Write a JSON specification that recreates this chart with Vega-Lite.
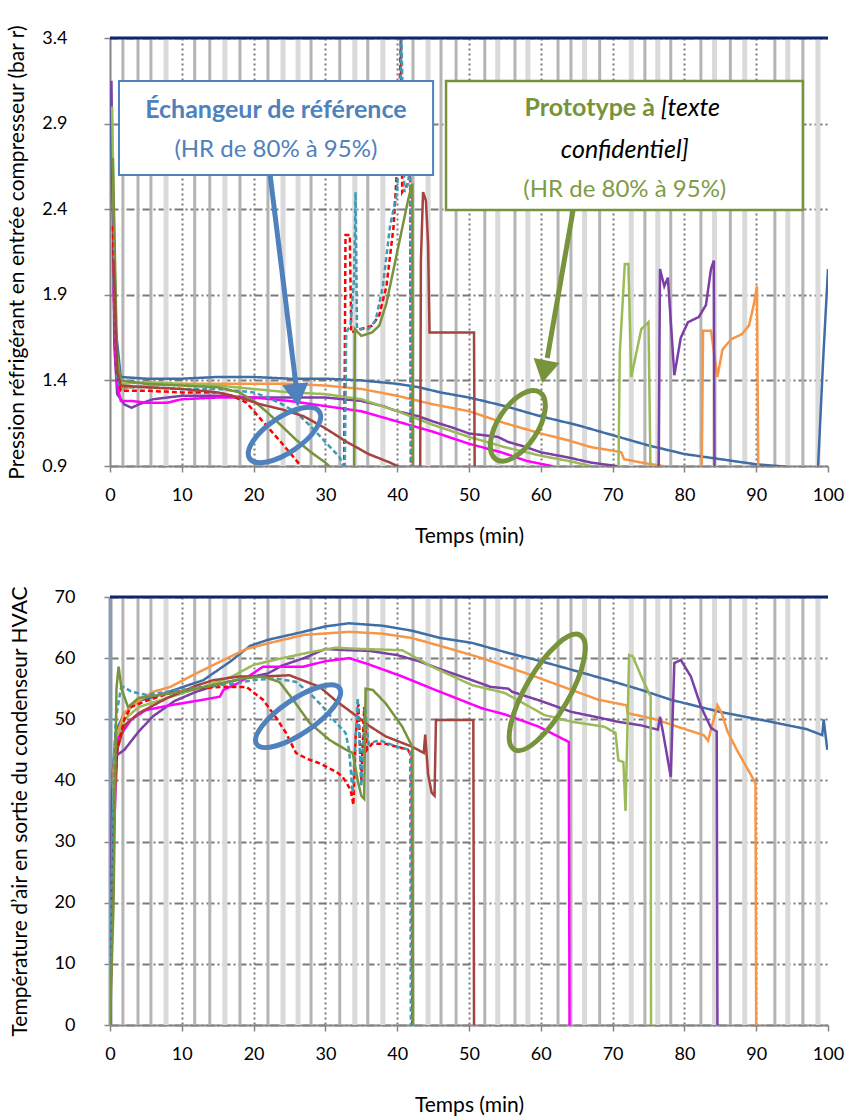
{
"$schema": "https://vega.github.io/schema/vega-lite/v6.json",
"padding": {"left": 6, "top": 24, "right": 12, "bottom": 5},
"background": "white",
"spacing": 131,
"bounds": "flush",
"config": {
  "view": {"stroke": null},
  "font": "Lato",
  "axis": {"labelFont": "Lato", "titleFont": "Lato", "labelFontSize": 18, "titleFontSize": 21, "titleFontWeight": "normal", "labelColor": "#000000", "titleColor": "#000000", "domainColor": "#868686", "domainWidth": 2, "tickColor": "#868686", "tickWidth": 1.5, "tickSize": 6, "gridColor": "#7a7a7a", "gridWidth": 2},
  "axisX": {"grid": true, "gridDash": [2, 3], "labelPadding": 14, "titlePadding": 21, "labelFlush": false, "gridOpacity": {"condition": {"test": "datum.value <= 0 || datum.value >= 100", "value": 0}, "value": 1}},
  "axisY": {"grid": true, "gridDash": [8, 3, 2, 3]},
  "axisQuantitative": {"grid": true}
},
"datasets": {
"bands": [
{"t":1.8,"tone":"d"},{"t":3.9,"tone":"d"},{"t":5.7,"tone":"d"},{"t":7.8,"tone":"l"},
{"t":11.8,"tone":"d"},{"t":13.9,"tone":"d"},{"t":16.0,"tone":"l"},{"t":18.1,"tone":"d"},
{"t":22.0,"tone":"d"},{"t":24.1,"tone":"l"},{"t":26.2,"tone":"l"},{"t":28.0,"tone":"d"},
{"t":32.0,"tone":"d"},{"t":34.1,"tone":"l"},{"t":35.9,"tone":"d"},{"t":38.0,"tone":"l"},
{"t":42.2,"tone":"d"},{"t":44.3,"tone":"l"},{"t":46.1,"tone":"d"},{"t":48.2,"tone":"d"},
{"t":52.2,"tone":"d"},{"t":54.0,"tone":"l"},{"t":56.4,"tone":"d"},{"t":58.2,"tone":"l"},
{"t":62.4,"tone":"d"},{"t":64.2,"tone":"d"},{"t":66.1,"tone":"l"},{"t":68.2,"tone":"d"},
{"t":72.6,"tone":"l"},{"t":74.5,"tone":"d"},{"t":76.3,"tone":"l"},{"t":78.1,"tone":"d"},
{"t":82.3,"tone":"d"},{"t":84.2,"tone":"l"},{"t":86.4,"tone":"d"},{"t":88.4,"tone":"l"},
{"t":92.6,"tone":"d"},{"t":94.4,"tone":"l"},{"t":96.5,"tone":"d"},{"t":98.6,"tone":"l"}
],
"press": [
{"s":"bleu","t":0,"v":3.1},{"s":"bleu","t":0.8,"v":1.7},{"s":"bleu","t":1.5,"v":1.42},{"s":"bleu","t":5,"v":1.41},{"s":"bleu","t":10,"v":1.41},{"s":"bleu","t":15,"v":1.42},{"s":"bleu","t":20,"v":1.42},{"s":"bleu","t":25,"v":1.41},{"s":"bleu","t":30,"v":1.41},{"s":"bleu","t":35,"v":1.4},{"s":"bleu","t":40,"v":1.38},{"s":"bleu","t":43,"v":1.36},{"s":"bleu","t":46,"v":1.33},{"s":"bleu","t":50,"v":1.3},{"s":"bleu","t":55,"v":1.25},{"s":"bleu","t":60,"v":1.19},{"s":"bleu","t":65,"v":1.14},{"s":"bleu","t":70,"v":1.08},{"s":"bleu","t":75,"v":1.02},{"s":"bleu","t":80,"v":0.97},{"s":"bleu","t":85,"v":0.94},{"s":"bleu","t":90,"v":0.91},{"s":"bleu","t":93,"v":0.9},{"s":"bleu","t":96,"v":0.89},{"s":"bleu","t":98.6,"v":0.88},{"s":"bleu","t":99.3,"v":1.5},{"s":"bleu","t":100,"v":2.05},
{"s":"orange","t":0.3,"v":2.2},{"s":"orange","t":0.8,"v":1.5},{"s":"orange","t":1.5,"v":1.35},{"s":"orange","t":3,"v":1.36},{"s":"orange","t":5,"v":1.37},{"s":"orange","t":10,"v":1.38},{"s":"orange","t":15,"v":1.38},{"s":"orange","t":20,"v":1.38},{"s":"orange","t":25,"v":1.38},{"s":"orange","t":30,"v":1.37},{"s":"orange","t":35,"v":1.35},{"s":"orange","t":40,"v":1.31},{"s":"orange","t":45,"v":1.26},{"s":"orange","t":50,"v":1.22},{"s":"orange","t":55,"v":1.15},{"s":"orange","t":60,"v":1.09},{"s":"orange","t":63.8,"v":1.05},{"s":"orange","t":67,"v":1.01},{"s":"orange","t":70,"v":0.99},{"s":"orange","t":71.2,"v":0.98},{"s":"orange","t":71.6,"v":0.94},{"s":"orange","t":74,"v":0.92},{"s":"orange","t":77,"v":0.9},{"s":"orange","t":80,"v":0.88},{"s":"orange","t":82.4,"v":0.8},{"s":"orange","t":82.6,"v":1.69},{"s":"orange","t":83.7,"v":1.69},{"s":"orange","t":84.6,"v":1.42},{"s":"orange","t":85.3,"v":1.58},{"s":"orange","t":86.5,"v":1.64},{"s":"orange","t":88,"v":1.67},{"s":"orange","t":89,"v":1.72},{"s":"orange","t":89.7,"v":1.85},{"s":"orange","t":90.1,"v":1.95},{"s":"orange","t":90.3,"v":0.8},
{"s":"violet","t":0.2,"v":3.15},{"s":"violet","t":0.6,"v":1.6},{"s":"violet","t":1,"v":1.32},{"s":"violet","t":2,"v":1.26},{"s":"violet","t":3,"v":1.24},{"s":"violet","t":4,"v":1.26},{"s":"violet","t":6,"v":1.29},{"s":"violet","t":10,"v":1.31},{"s":"violet","t":15,"v":1.31},{"s":"violet","t":20,"v":1.3},{"s":"violet","t":25,"v":1.3},{"s":"violet","t":30,"v":1.3},{"s":"violet","t":35,"v":1.28},{"s":"violet","t":38,"v":1.25},{"s":"violet","t":40,"v":1.22},{"s":"violet","t":43,"v":1.19},{"s":"violet","t":45,"v":1.16},{"s":"violet","t":48,"v":1.12},{"s":"violet","t":50,"v":1.09},{"s":"violet","t":54,"v":1.07},{"s":"violet","t":55.5,"v":1.04},{"s":"violet","t":58,"v":1.01},{"s":"violet","t":60,"v":0.98},{"s":"violet","t":63.8,"v":0.95},{"s":"violet","t":67,"v":0.92},{"s":"violet","t":70.5,"v":0.9},{"s":"violet","t":72,"v":0.85},{"s":"violet","t":76.4,"v":0.8},{"s":"violet","t":76.6,"v":2.05},{"s":"violet","t":77.2,"v":1.95},{"s":"violet","t":77.7,"v":2.0},{"s":"violet","t":78.6,"v":1.43},{"s":"violet","t":79.5,"v":1.65},{"s":"violet","t":80.5,"v":1.74},{"s":"violet","t":82,"v":1.77},{"s":"violet","t":83,"v":1.84},{"s":"violet","t":83.7,"v":2.05},{"s":"violet","t":84.1,"v":2.1},{"s":"violet","t":84.2,"v":0.8},
{"s":"vert","t":0.3,"v":3.0},{"s":"vert","t":0.8,"v":1.6},{"s":"vert","t":1.5,"v":1.38},{"s":"vert","t":5,"v":1.39},{"s":"vert","t":10,"v":1.38},{"s":"vert","t":15,"v":1.37},{"s":"vert","t":20,"v":1.35},{"s":"vert","t":25,"v":1.33},{"s":"vert","t":30,"v":1.32},{"s":"vert","t":35,"v":1.29},{"s":"vert","t":40,"v":1.22},{"s":"vert","t":45,"v":1.14},{"s":"vert","t":50,"v":1.07},{"s":"vert","t":55,"v":1.01},{"s":"vert","t":60,"v":0.96},{"s":"vert","t":63.8,"v":0.93},{"s":"vert","t":67,"v":0.9},{"s":"vert","t":69,"v":0.85},{"s":"vert","t":70.8,"v":0.8},{"s":"vert","t":71,"v":1.56},{"s":"vert","t":71.7,"v":2.08},{"s":"vert","t":72.2,"v":2.08},{"s":"vert","t":72.6,"v":1.42},{"s":"vert","t":73.3,"v":1.56},{"s":"vert","t":74,"v":1.7},{"s":"vert","t":75,"v":1.74},{"s":"vert","t":75.3,"v":0.8},
{"s":"magenta","t":0.5,"v":1.95},{"s":"magenta","t":0.9,"v":1.4},{"s":"magenta","t":1.5,"v":1.28},{"s":"magenta","t":3,"v":1.28},{"s":"magenta","t":5,"v":1.27},{"s":"magenta","t":8,"v":1.27},{"s":"magenta","t":10,"v":1.29},{"s":"magenta","t":15,"v":1.3},{"s":"magenta","t":20,"v":1.3},{"s":"magenta","t":25,"v":1.28},{"s":"magenta","t":30,"v":1.25},{"s":"magenta","t":35,"v":1.22},{"s":"magenta","t":40,"v":1.16},{"s":"magenta","t":45,"v":1.1},{"s":"magenta","t":50,"v":1.03},{"s":"magenta","t":54.5,"v":0.98},{"s":"magenta","t":58,"v":0.93},{"s":"magenta","t":61.5,"v":0.9},{"s":"magenta","t":64,"v":0.8},
{"s":"rouge","t":0.4,"v":2.3},{"s":"rouge","t":0.9,"v":1.45},{"s":"rouge","t":1.5,"v":1.34},{"s":"rouge","t":5,"v":1.34},{"s":"rouge","t":10,"v":1.33},{"s":"rouge","t":15,"v":1.33},{"s":"rouge","t":17,"v":1.31},{"s":"rouge","t":19,"v":1.27},{"s":"rouge","t":21.5,"v":1.15},{"s":"rouge","t":24,"v":1.03},{"s":"rouge","t":26,"v":0.93},{"s":"rouge","t":27,"v":0.88},{"s":"rouge","t":30,"v":0.8},{"s":"rouge","t":32.6,"v":0.8},{"s":"rouge","t":32.8,"v":2.25},{"s":"rouge","t":33.4,"v":2.25},{"s":"rouge","t":33.6,"v":1.68},{"s":"rouge","t":35,"v":1.7},{"s":"rouge","t":36.5,"v":1.72},{"s":"rouge","t":37.5,"v":1.78},{"s":"rouge","t":38.5,"v":1.95},{"s":"rouge","t":39.5,"v":2.3},{"s":"rouge","t":40.2,"v":2.8},{"s":"rouge","t":40.5,"v":3.4},{"s":"rouge","t":40.7,"v":2.5},{"s":"rouge","t":41.5,"v":2.55},{"s":"rouge","t":41.8,"v":2.6},{"s":"rouge","t":41.9,"v":0.8},
{"s":"turquoise","t":0.5,"v":2.0},{"s":"turquoise","t":1,"v":1.4},{"s":"turquoise","t":1.5,"v":1.36},{"s":"turquoise","t":5,"v":1.36},{"s":"turquoise","t":10,"v":1.35},{"s":"turquoise","t":15,"v":1.35},{"s":"turquoise","t":20,"v":1.33},{"s":"turquoise","t":22,"v":1.3},{"s":"turquoise","t":24,"v":1.26},{"s":"turquoise","t":26,"v":1.21},{"s":"turquoise","t":28,"v":1.13},{"s":"turquoise","t":30,"v":1.04},{"s":"turquoise","t":32,"v":0.95},{"s":"turquoise","t":32.7,"v":0.88},{"s":"turquoise","t":32.9,"v":1.68},{"s":"turquoise","t":33.5,"v":1.72},{"s":"turquoise","t":34,"v":2.0},{"s":"turquoise","t":34.2,"v":2.5},{"s":"turquoise","t":34.4,"v":1.7},{"s":"turquoise","t":36,"v":1.7},{"s":"turquoise","t":37,"v":1.75},{"s":"turquoise","t":38,"v":1.95},{"s":"turquoise","t":39,"v":2.3},{"s":"turquoise","t":40,"v":2.5},{"s":"turquoise","t":40.4,"v":3.0},{"s":"turquoise","t":40.6,"v":3.4},{"s":"turquoise","t":41,"v":2.5},{"s":"turquoise","t":41.5,"v":2.55},{"s":"turquoise","t":41.8,"v":2.65},{"s":"turquoise","t":41.95,"v":0.8},
{"s":"olive","t":0.4,"v":2.7},{"s":"olive","t":1,"v":1.5},{"s":"olive","t":1.5,"v":1.4},{"s":"olive","t":5,"v":1.38},{"s":"olive","t":10,"v":1.37},{"s":"olive","t":15,"v":1.36},{"s":"olive","t":18,"v":1.33},{"s":"olive","t":20,"v":1.28},{"s":"olive","t":22,"v":1.21},{"s":"olive","t":24,"v":1.13},{"s":"olive","t":26,"v":1.05},{"s":"olive","t":28,"v":0.98},{"s":"olive","t":30,"v":0.92},{"s":"olive","t":31,"v":0.88},{"s":"olive","t":33,"v":0.8},{"s":"olive","t":34,"v":0.8},{"s":"olive","t":34.1,"v":1.7},{"s":"olive","t":35,"v":1.66},{"s":"olive","t":36.5,"v":1.68},{"s":"olive","t":37.5,"v":1.72},{"s":"olive","t":38.5,"v":1.85},{"s":"olive","t":39.5,"v":2.05},{"s":"olive","t":40.5,"v":2.25},{"s":"olive","t":41.5,"v":2.45},{"s":"olive","t":42.1,"v":2.55},{"s":"olive","t":42.2,"v":0.8},
{"s":"marron","t":0.5,"v":2.1},{"s":"marron","t":1,"v":1.45},{"s":"marron","t":1.5,"v":1.37},{"s":"marron","t":5,"v":1.36},{"s":"marron","t":10,"v":1.35},{"s":"marron","t":15,"v":1.33},{"s":"marron","t":18,"v":1.3},{"s":"marron","t":21,"v":1.26},{"s":"marron","t":24,"v":1.23},{"s":"marron","t":27,"v":1.19},{"s":"marron","t":30,"v":1.12},{"s":"marron","t":33,"v":1.04},{"s":"marron","t":36,"v":0.97},{"s":"marron","t":39,"v":0.92},{"s":"marron","t":40.5,"v":0.89},{"s":"marron","t":42,"v":0.8},{"s":"marron","t":43.2,"v":0.8},{"s":"marron","t":43.3,"v":2.1},{"s":"marron","t":43.6,"v":2.5},{"s":"marron","t":44,"v":2.45},{"s":"marron","t":44.3,"v":2.2},{"s":"marron","t":44.5,"v":1.68},{"s":"marron","t":50.7,"v":1.68},{"s":"marron","t":50.8,"v":0.8}
],
"temp": [
{"s":"bleu","t":0,"v":0},{"s":"bleu","t":0.3,"v":40},{"s":"bleu","t":0.8,"v":48},{"s":"bleu","t":2,"v":51},{"s":"bleu","t":4,"v":53},{"s":"bleu","t":7,"v":54},{"s":"bleu","t":10.2,"v":55.3},{"s":"bleu","t":13,"v":56.4},{"s":"bleu","t":16.7,"v":59.4},{"s":"bleu","t":19.5,"v":62},{"s":"bleu","t":22,"v":63},{"s":"bleu","t":26.9,"v":64.3},{"s":"bleu","t":30,"v":65.2},{"s":"bleu","t":33.3,"v":65.7},{"s":"bleu","t":38,"v":65.3},{"s":"bleu","t":42,"v":64.5},{"s":"bleu","t":46,"v":63.3},{"s":"bleu","t":50.4,"v":62.5},{"s":"bleu","t":55,"v":61},{"s":"bleu","t":60,"v":59.5},{"s":"bleu","t":64.3,"v":58.1},{"s":"bleu","t":70,"v":56.2},{"s":"bleu","t":74,"v":54.8},{"s":"bleu","t":78.1,"v":53.2},{"s":"bleu","t":85,"v":51.2},{"s":"bleu","t":92,"v":49.6},{"s":"bleu","t":97,"v":48.4},{"s":"bleu","t":99.2,"v":47.4},{"s":"bleu","t":99.4,"v":50},{"s":"bleu","t":99.7,"v":47},{"s":"bleu","t":99.9,"v":45},
{"s":"orange","t":0,"v":0},{"s":"orange","t":0.4,"v":40},{"s":"orange","t":0.8,"v":47},{"s":"orange","t":2,"v":51},{"s":"orange","t":4,"v":53},{"s":"orange","t":6,"v":54.5},{"s":"orange","t":8.4,"v":55.3},{"s":"orange","t":12,"v":57.5},{"s":"orange","t":16.7,"v":60.2},{"s":"orange","t":19,"v":61.5},{"s":"orange","t":22.3,"v":62.5},{"s":"orange","t":27,"v":63.8},{"s":"orange","t":33.3,"v":64.3},{"s":"orange","t":38,"v":64},{"s":"orange","t":42,"v":63.3},{"s":"orange","t":46,"v":62},{"s":"orange","t":51.8,"v":60},{"s":"orange","t":58,"v":57.5},{"s":"orange","t":64.3,"v":54.8},{"s":"orange","t":68,"v":53.2},{"s":"orange","t":71.9,"v":52.3},{"s":"orange","t":72.1,"v":51},{"s":"orange","t":76,"v":50},{"s":"orange","t":79,"v":48.8},{"s":"orange","t":82.7,"v":47.4},{"s":"orange","t":83.3,"v":46.5},{"s":"orange","t":84.6,"v":52.3},{"s":"orange","t":85.2,"v":51},{"s":"orange","t":86,"v":48},{"s":"orange","t":87.3,"v":45},{"s":"orange","t":88.5,"v":42.5},{"s":"orange","t":89.7,"v":40},{"s":"orange","t":89.9,"v":39.5},{"s":"orange","t":90,"v":0},
{"s":"violet","t":0,"v":0},{"s":"violet","t":0.3,"v":38},{"s":"violet","t":0.8,"v":44},{"s":"violet","t":2,"v":45},{"s":"violet","t":4,"v":48},{"s":"violet","t":6,"v":50.5},{"s":"violet","t":9,"v":53},{"s":"violet","t":12,"v":54.5},{"s":"violet","t":16,"v":56},{"s":"violet","t":20,"v":57},{"s":"violet","t":22,"v":57.5},{"s":"violet","t":24,"v":58.8},{"s":"violet","t":27,"v":60},{"s":"violet","t":30,"v":61.5},{"s":"violet","t":33,"v":61.3},{"s":"violet","t":36,"v":61.2},{"s":"violet","t":40,"v":60.5},{"s":"violet","t":43,"v":59.5},{"s":"violet","t":46,"v":58.2},{"s":"violet","t":50.4,"v":56.4},{"s":"violet","t":53,"v":55.3},{"s":"violet","t":55.5,"v":55},{"s":"violet","t":56,"v":54.5},{"s":"violet","t":60,"v":53},{"s":"violet","t":64.3,"v":51.2},{"s":"violet","t":68,"v":50.3},{"s":"violet","t":70.7,"v":49.6},{"s":"violet","t":74,"v":49},{"s":"violet","t":76.3,"v":48.3},{"s":"violet","t":76.6,"v":50.4},{"s":"violet","t":77,"v":48},{"s":"violet","t":78.1,"v":40.6},{"s":"violet","t":78.6,"v":59.2},{"s":"violet","t":79.5,"v":59.7},{"s":"violet","t":80.9,"v":57},{"s":"violet","t":82.3,"v":52.1},{"s":"violet","t":83.7,"v":48.6},{"s":"violet","t":84.5,"v":48},{"s":"violet","t":84.6,"v":0},
{"s":"vert","t":0,"v":0},{"s":"vert","t":0.5,"v":40},{"s":"vert","t":1,"v":47},{"s":"vert","t":2,"v":50},{"s":"vert","t":4,"v":52},{"s":"vert","t":8,"v":53.5},{"s":"vert","t":13,"v":55.3},{"s":"vert","t":17,"v":57},{"s":"vert","t":20,"v":58.9},{"s":"vert","t":24,"v":60},{"s":"vert","t":28,"v":61},{"s":"vert","t":31.4,"v":61.7},{"s":"vert","t":35,"v":61.5},{"s":"vert","t":40.7,"v":61.3},{"s":"vert","t":45,"v":58.5},{"s":"vert","t":50.4,"v":55.6},{"s":"vert","t":55,"v":54.3},{"s":"vert","t":60.5,"v":50.7},{"s":"vert","t":64.3,"v":49.6},{"s":"vert","t":68.8,"v":48.8},{"s":"vert","t":70.4,"v":47.8},{"s":"vert","t":70.8,"v":43.3},{"s":"vert","t":71.5,"v":43},{"s":"vert","t":71.8,"v":35},{"s":"vert","t":72.3,"v":60.5},{"s":"vert","t":72.8,"v":60.3},{"s":"vert","t":74,"v":57},{"s":"vert","t":75.3,"v":53.7},{"s":"vert","t":75.35,"v":0},
{"s":"magenta","t":0,"v":0},{"s":"magenta","t":0.5,"v":30},{"s":"magenta","t":1,"v":45},{"s":"magenta","t":1.2,"v":47},{"s":"magenta","t":3,"v":50},{"s":"magenta","t":5,"v":51.5},{"s":"magenta","t":8.4,"v":52.3},{"s":"magenta","t":13,"v":53.2},{"s":"magenta","t":15.3,"v":53.7},{"s":"magenta","t":15.8,"v":54.8},{"s":"magenta","t":18,"v":56},{"s":"magenta","t":21.3,"v":58.6},{"s":"magenta","t":26.9,"v":58.6},{"s":"magenta","t":30,"v":59.5},{"s":"magenta","t":33.3,"v":60},{"s":"magenta","t":36,"v":59},{"s":"magenta","t":40.7,"v":57},{"s":"magenta","t":45.3,"v":54.8},{"s":"magenta","t":51.8,"v":51.8},{"s":"magenta","t":55,"v":50.8},{"s":"magenta","t":59.7,"v":48.8},{"s":"magenta","t":63.9,"v":46.3},{"s":"magenta","t":64,"v":0},
{"s":"marron","t":0,"v":0},{"s":"marron","t":0.5,"v":35},{"s":"marron","t":1,"v":45},{"s":"marron","t":2,"v":49},{"s":"marron","t":4,"v":51},{"s":"marron","t":8,"v":53.5},{"s":"marron","t":12,"v":55.5},{"s":"marron","t":14.4,"v":56.4},{"s":"marron","t":18,"v":57},{"s":"marron","t":21.3,"v":57},{"s":"marron","t":25,"v":57.2},{"s":"marron","t":29.2,"v":55.3},{"s":"marron","t":31.5,"v":53},{"s":"marron","t":33.8,"v":51},{"s":"marron","t":36,"v":49},{"s":"marron","t":38.4,"v":47.2},{"s":"marron","t":42.1,"v":45.5},{"s":"marron","t":43.7,"v":44.5},{"s":"marron","t":43.9,"v":47.5},{"s":"marron","t":44.3,"v":41},{"s":"marron","t":44.8,"v":38},{"s":"marron","t":45.2,"v":37.5},{"s":"marron","t":45.4,"v":49.9},{"s":"marron","t":50.6,"v":49.9},{"s":"marron","t":50.7,"v":0},
{"s":"rouge","t":0,"v":0},{"s":"rouge","t":0.5,"v":35},{"s":"rouge","t":1,"v":45},{"s":"rouge","t":2,"v":50},{"s":"rouge","t":2.9,"v":52},{"s":"rouge","t":5,"v":53},{"s":"rouge","t":8.4,"v":54.3},{"s":"rouge","t":12,"v":55},{"s":"rouge","t":15.3,"v":55.3},{"s":"rouge","t":19,"v":55.3},{"s":"rouge","t":21.3,"v":53.2},{"s":"rouge","t":23,"v":50.5},{"s":"rouge","t":24.5,"v":47.8},{"s":"rouge","t":25.9,"v":44.5},{"s":"rouge","t":27.5,"v":43.5},{"s":"rouge","t":29.2,"v":42.8},{"s":"rouge","t":31.5,"v":41.4},{"s":"rouge","t":32.4,"v":40.6},{"s":"rouge","t":33.5,"v":38.5},{"s":"rouge","t":33.9,"v":36},{"s":"rouge","t":34.2,"v":47},{"s":"rouge","t":34.6,"v":52.5},{"s":"rouge","t":35,"v":40},{"s":"rouge","t":35.4,"v":52},{"s":"rouge","t":35.8,"v":45},{"s":"rouge","t":36.5,"v":46},{"s":"rouge","t":38.4,"v":46},{"s":"rouge","t":40,"v":45.5},{"s":"rouge","t":41.5,"v":45},{"s":"rouge","t":42,"v":44},{"s":"rouge","t":42.1,"v":0},
{"s":"turquoise","t":0,"v":0},{"s":"turquoise","t":0.3,"v":30},{"s":"turquoise","t":0.8,"v":50},{"s":"turquoise","t":1.5,"v":55},{"s":"turquoise","t":1.9,"v":55.3},{"s":"turquoise","t":3,"v":54.5},{"s":"turquoise","t":5,"v":54},{"s":"turquoise","t":8,"v":54.5},{"s":"turquoise","t":13,"v":55.3},{"s":"turquoise","t":17,"v":55.8},{"s":"turquoise","t":20,"v":56.4},{"s":"turquoise","t":23.1,"v":56.7},{"s":"turquoise","t":25.9,"v":56.1},{"s":"turquoise","t":27.8,"v":54.3},{"s":"turquoise","t":29.6,"v":52.1},{"s":"turquoise","t":31.5,"v":49.4},{"s":"turquoise","t":32.8,"v":47.8},{"s":"turquoise","t":33.3,"v":45},{"s":"turquoise","t":33.8,"v":38},{"s":"turquoise","t":34.5,"v":53.5},{"s":"turquoise","t":35,"v":39},{"s":"turquoise","t":35.5,"v":52},{"s":"turquoise","t":36,"v":46},{"s":"turquoise","t":37.5,"v":46.6},{"s":"turquoise","t":40,"v":45.5},{"s":"turquoise","t":41.8,"v":45},{"s":"turquoise","t":41.9,"v":0},
{"s":"olive","t":0,"v":0},{"s":"olive","t":0.5,"v":20},{"s":"olive","t":0.9,"v":55},{"s":"olive","t":1.2,"v":58.6},{"s":"olive","t":1.6,"v":55},{"s":"olive","t":2.5,"v":52},{"s":"olive","t":4,"v":53.5},{"s":"olive","t":7,"v":54},{"s":"olive","t":10,"v":54.5},{"s":"olive","t":14,"v":55.5},{"s":"olive","t":18.6,"v":56.7},{"s":"olive","t":21.3,"v":57},{"s":"olive","t":23.6,"v":56.1},{"s":"olive","t":25.5,"v":53.2},{"s":"olive","t":27.8,"v":49.4},{"s":"olive","t":30.6,"v":46.6},{"s":"olive","t":32.9,"v":45},{"s":"olive","t":33.8,"v":44.5},{"s":"olive","t":34.5,"v":40},{"s":"olive","t":35,"v":37.5},{"s":"olive","t":35.4,"v":37},{"s":"olive","t":35.6,"v":55},{"s":"olive","t":36.6,"v":54.8},{"s":"olive","t":38.4,"v":52.6},{"s":"olive","t":40.7,"v":48.8},{"s":"olive","t":42.1,"v":45.5},{"s":"olive","t":42.2,"v":0}
]
},
"vconcat": [
{
"width": 718, "height": 428,
"layer": [
{"data": {"name": "bands"}, "transform": [{"filter": "datum.tone == 'l'"}], "mark": {"type": "rule", "color": "#dadada", "strokeWidth": 5}, "encoding": {"x": {"field": "t", "type": "quantitative", "scale": {"domain": [0, 100], "nice": false}, "title": "Temps (min)", "axis": {"values": [0,10,20,30,40,50,60,70,80,90,100], "grid": true, "gridDash": [2, 3], "labelPadding": 14, "titlePadding": 21}}}},
{"data": {"name": "bands"}, "transform": [{"filter": "datum.tone == 'd'"}], "mark": {"type": "rule", "color": "#b4b4b4", "strokeWidth": 3}, "encoding": {"x": {"field": "t", "type": "quantitative", "title": "Temps (min)", "axis": {"values": [0,10,20,30,40,50,60,70,80,90,100]}}}},
{"data": {"name": "press"}, "mark": {"type": "line", "strokeWidth": 2.5, "clip": true},
 "encoding": {
  "x": {"field": "t", "type": "quantitative", "title": "Temps (min)", "axis": {"values": [0,10,20,30,40,50,60,70,80,90,100], "grid": true, "gridDash": [2, 3], "labelPadding": 14, "titlePadding": 21}},
  "y": {"field": "v", "type": "quantitative", "scale": {"domain": [0.9, 3.4], "nice": false, "zero": false}, "axis": {"values": [0.9, 1.4, 1.9, 2.4, 2.9, 3.4], "format": ".1f", "grid": true, "gridDash": [8, 3, 2, 3], "labelAlign": "right", "labelPadding": 37, "titlePadding": 14}, "title": "Pression réfrigérant en entrée compresseur (bar r)"},
  "color": {"field": "s", "type": "nominal", "legend": null, "scale": {"domain": ["bleu","orange","violet","vert","magenta","marron","rouge","turquoise","olive"], "range": ["#3F6EA6","#F79646","#7B3FA6","#9BBB59","#FF00FF","#A5433F","#FF0000","#3E9AB5","#77933C"]}},
  "strokeDash": {"field": "s", "type": "nominal", "legend": null, "scale": {"domain": ["bleu","orange","violet","vert","magenta","marron","rouge","turquoise","olive"], "range": [[1,0],[1,0],[1,0],[1,0],[1,0],[1,0],[5,3],[5,3],[1,0]]}}
 }},
{"data": {"values": [{}]}, "mark": {"type": "rule", "color": "#10256B", "strokeWidth": 3}, "encoding": {"y": {"datum": 3.4, "type": "quantitative"}}},
{"data": {"values": [{}]}, "mark": {"type": "point", "shape": "M-1,0A1,0.42,0,1,1,1,0A1,0.42,0,1,1,-1,0Z", "size": 7056, "angle": 326, "filled": false, "stroke": "#4F81BD", "strokeWidth": 5, "opacity": 1}, "encoding": {"x": {"datum": 24.3, "type": "quantitative"}, "y": {"datum": 1.081, "type": "quantitative"}}},
{"data": {"values": [{}]}, "mark": {"type": "point", "shape": "M-1,0A1,0.5,0,1,1,1,0A1,0.5,0,1,1,-1,0Z", "size": 6400, "angle": 303, "filled": false, "stroke": "#77933C", "strokeWidth": 5, "opacity": 1}, "encoding": {"x": {"datum": 56.8, "type": "quantitative"}, "y": {"datum": 1.135, "type": "quantitative"}}},
{"data": {"values": [{}]}, "mark": {"type": "rule", "color": "#4F81BD", "strokeWidth": 5}, "encoding": {"x": {"datum": 22.3, "type": "quantitative"}, "y": {"datum": 2.6, "type": "quantitative"}, "x2": {"datum": 25.9}, "y2": {"datum": 1.373}}},
{"data": {"values": [{}]}, "mark": {"type": "point", "shape": "triangle-down", "size": 700, "angle": 353, "filled": true, "color": "#4F81BD", "opacity": 1}, "encoding": {"x": {"datum": 26.0, "type": "quantitative"}, "y": {"datum": 1.314, "type": "quantitative"}}},
{"data": {"values": [{}]}, "mark": {"type": "rule", "color": "#77933C", "strokeWidth": 5}, "encoding": {"x": {"datum": 64.5, "type": "quantitative"}, "y": {"datum": 2.395, "type": "quantitative"}, "x2": {"datum": 60.9}, "y2": {"datum": 1.531}}},
{"data": {"values": [{}]}, "mark": {"type": "point", "shape": "triangle-down", "size": 700, "angle": 11, "filled": true, "color": "#77933C", "opacity": 1}, "encoding": {"x": {"datum": 60.5, "type": "quantitative"}, "y": {"datum": 1.451, "type": "quantitative"}}},
{"data": {"values": [{}]}, "mark": {"type": "rect", "fill": "white", "stroke": "#4F81BD", "strokeWidth": 2}, "encoding": {"x": {"datum": 1.25, "type": "quantitative"}, "x2": {"datum": 45}, "y": {"datum": 3.149, "type": "quantitative"}, "y2": {"datum": 2.6}}},
{"data": {"values": [{}]}, "mark": {"type": "rect", "fill": "white", "stroke": "#77933C", "strokeWidth": 2.5}, "encoding": {"x": {"datum": 46.8, "type": "quantitative"}, "x2": {"datum": 96.5}, "y": {"datum": 3.149, "type": "quantitative"}, "y2": {"datum": 2.395}}},
{"data": {"values": [{}]}, "mark": {"type": "text", "text": "Échangeur de référence", "font": "Lato", "fontSize": 25, "fontWeight": "bold", "color": "#4F81BD", "align": "center", "baseline": "middle"}, "encoding": {"x": {"datum": 23.1, "type": "quantitative"}, "y": {"datum": 2.98, "type": "quantitative"}}},
{"data": {"values": [{}]}, "mark": {"type": "text", "text": "(HR de 80% à 95%)", "font": "Lato", "fontSize": 24, "color": "#4F81BD", "align": "center", "baseline": "middle"}, "encoding": {"x": {"datum": 23.1, "type": "quantitative"}, "y": {"datum": 2.746, "type": "quantitative"}}},
{"data": {"values": [{}]}, "mark": {"type": "text", "text": "Prototype à", "font": "Lato", "fontSize": 25, "fontWeight": "bold", "color": "#77933C", "align": "right", "baseline": "middle"}, "encoding": {"x": {"datum": 75.9, "type": "quantitative"}, "y": {"datum": 2.991, "type": "quantitative"}}},
{"data": {"values": [{}]}, "mark": {"type": "text", "text": "[texte", "font": "Lato", "fontSize": 25, "fontStyle": "italic", "color": "#000000", "align": "left", "baseline": "middle"}, "encoding": {"x": {"datum": 76.7, "type": "quantitative"}, "y": {"datum": 2.991, "type": "quantitative"}}},
{"data": {"values": [{}]}, "mark": {"type": "text", "text": "confidentiel]", "font": "Lato", "fontSize": 25, "fontStyle": "italic", "color": "#000000", "align": "center", "baseline": "middle"}, "encoding": {"x": {"datum": 71.7, "type": "quantitative"}, "y": {"datum": 2.746, "type": "quantitative"}}},
{"data": {"values": [{}]}, "mark": {"type": "text", "text": "(HR de 80% à 95%)", "font": "Lato", "fontSize": 24, "color": "#7F9C45", "align": "center", "baseline": "middle"}, "encoding": {"x": {"datum": 71.7, "type": "quantitative"}, "y": {"datum": 2.512, "type": "quantitative"}}}
]
},
{
"width": 718, "height": 428,
"layer": [
{"data": {"name": "bands"}, "transform": [{"filter": "datum.tone == 'l'"}], "mark": {"type": "rule", "color": "#dadada", "strokeWidth": 5}, "encoding": {"x": {"field": "t", "type": "quantitative", "scale": {"domain": [0, 100], "nice": false}, "title": "Temps (min)", "axis": {"values": [0,10,20,30,40,50,60,70,80,90,100], "grid": true, "gridDash": [2, 3], "labelPadding": 14, "titlePadding": 31}}}},
{"data": {"name": "bands"}, "transform": [{"filter": "datum.tone == 'd'"}], "mark": {"type": "rule", "color": "#b4b4b4", "strokeWidth": 3}, "encoding": {"x": {"field": "t", "type": "quantitative", "title": "Temps (min)", "axis": {"values": [0,10,20,30,40,50,60,70,80,90,100]}}}},
{"data": {"name": "temp"}, "mark": {"type": "line", "strokeWidth": 2.5, "clip": true},
 "encoding": {
  "x": {"field": "t", "type": "quantitative", "title": "Temps (min)", "axis": {"values": [0,10,20,30,40,50,60,70,80,90,100], "grid": true, "gridDash": [2, 3], "labelPadding": 14, "titlePadding": 31}},
  "y": {"field": "v", "type": "quantitative", "scale": {"domain": [0, 70], "nice": false}, "axis": {"values": [0, 10, 20, 30, 40, 50, 60, 70], "grid": true, "gridDash": [8, 3, 2, 3], "labelAlign": "right", "labelPadding": 29, "titlePadding": 24, "domainColor": "#8C9BB0", "domainWidth": 4}, "title": "Température d’air en sortie du condenseur HVAC"},
  "color": {"field": "s", "type": "nominal", "legend": null, "scale": {"domain": ["bleu","orange","violet","vert","magenta","marron","rouge","turquoise","olive"], "range": ["#3F6EA6","#F79646","#7B3FA6","#9BBB59","#FF00FF","#A5433F","#FF0000","#3E9AB5","#77933C"]}},
  "strokeDash": {"field": "s", "type": "nominal", "legend": null, "scale": {"domain": ["bleu","orange","violet","vert","magenta","marron","rouge","turquoise","olive"], "range": [[1,0],[1,0],[1,0],[1,0],[1,0],[1,0],[5,3],[5,3],[1,0]]}}
 }},
{"data": {"values": [{}]}, "mark": {"type": "rule", "color": "#10256B", "strokeWidth": 3}, "encoding": {"y": {"datum": 70, "type": "quantitative"}}},
{"data": {"values": [{}]}, "mark": {"type": "point", "shape": "M-1,0A1,0.34,0,1,1,1,0A1,0.34,0,1,1,-1,0Z", "size": 10000, "angle": 326, "filled": false, "stroke": "#4F81BD", "strokeWidth": 5, "opacity": 1}, "encoding": {"x": {"datum": 26.2, "type": "quantitative"}, "y": {"datum": 50.5, "type": "quantitative"}}},
{"data": {"values": [{}]}, "mark": {"type": "point", "shape": "M-1,0A1,0.33,0,1,1,1,0A1,0.33,0,1,1,-1,0Z", "size": 17424, "angle": 300, "filled": false, "stroke": "#77933C", "strokeWidth": 5, "opacity": 1}, "encoding": {"x": {"datum": 60.9, "type": "quantitative"}, "y": {"datum": 54.4, "type": "quantitative"}}}
]
}
]
}
